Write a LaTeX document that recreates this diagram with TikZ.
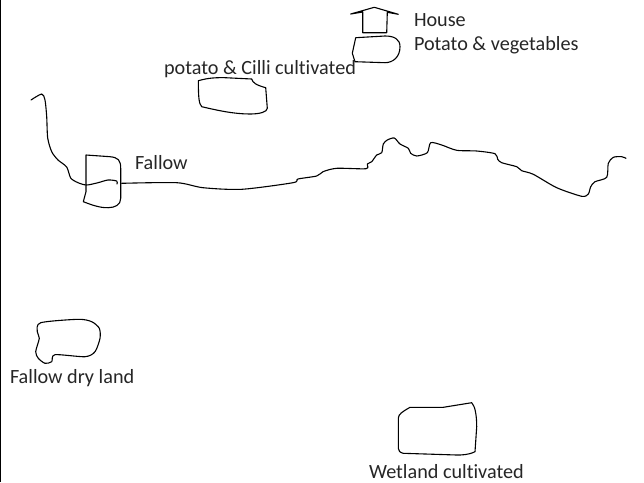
\documentclass[tikz,border=0pt]{standalone}
\usepackage{fontspec}
\setmainfont{Carlito}[Ligatures=CommonOff]
\tikzset{
  lab/.style={anchor=base west,inner sep=0pt,outer sep=0pt,text=black!85,font=\fontsize{20.2}{22}\selectfont},
  ink/.style={draw=black,line width=1.1pt,line join=round,line cap=round},
  sketch/.style={ink,smooth,tension=0.45},
  sketchc/.style={ink,smooth cycle,tension=0.45}
}
\begin{document}
\begin{tikzpicture}[x=1pt,y=-1pt]
\useasboundingbox (0,0) rectangle (644,482);
\fill[white] (0,0) rectangle (644,482);
\fill[black] (0,0) rectangle (1.3,482);
% river
\draw[sketch] plot coordinates {(31,100)(41.7,94)(45,100)(46.7,116.7)(47.7,138)(51.7,151.7)(58,160)(66.7,167)(70.7,178)(78,182.7)(86.7,185)(98,182.7)(108,180)(116.7,181)(117,184)};
\draw[sketch] plot coordinates {(121.7,183.3)(176.7,182.7)(203,187.7)(241.7,189.3)(293,182.7)(298,179)(316.7,176)(323,171.7)(336.7,168.3)(366,168.7)(367.3,164)(371.7,161.7)(376.7,155)(381.7,152.7)(383.3,144)(387.3,140)(394.3,138)(400,144)(408.3,148.3)(410.7,153.3)(416.7,156)(427.3,152.7)(430.7,142.7)(441.7,145)(456.7,150.3)(476.7,151)(495,153.7)(497.7,159.3)(501.7,162.7)(516.7,166.7)(521.7,170.7)(533.3,174.3)(556.7,187.7)(581.7,196.3)(588.3,194)(590.7,186.7)(595,181.7)(606.7,177.3)(608.3,163.3)(613.3,157.3)(621.7,156.7)(626,158.3)};
% fallow plot
\draw[ink] (86,155) -- (86,191.7) -- (83.3,201.7) .. controls (92,205) and (100,208) .. (108.3,207.7) .. controls (115,207.5) and (120.7,205) .. (120.7,198.3) -- (120.7,168.3) .. controls (120.7,160) and (118,157.5) .. (110,156.7) -- cycle;
% house
\draw[ink] (362.7,12) -- (350.7,14) -- (374.3,7.3) -- (398.3,14.3) -- (387.3,12.3) -- (386.7,32.7) -- (362.7,32.7) -- cycle;
% potato and vegetables plot
\draw[ink] (355.7,37.7) -- (385,36) .. controls (394,36) and (400,39) .. (400,46.7) .. controls (400,57) and (393,62.7) .. (385,62.7) -- (355,61.7) -- (352.3,53.3) -- cycle;
% potato and chilli plot
\draw[ink] (198.3,80.7) .. controls (208,78) and (215,77.5) .. (225,77.7) -- (251.7,79) .. controls (253,83) and (256,85) .. (265.7,87.7) -- (267.3,108.3) .. controls (267,112) and (260,114) .. (250,114) .. controls (235,114) and (220,111) .. (201.7,106.7) .. controls (199,103) and (198.5,100) .. cycle;
% fallow dry land plot
\draw[sketchc] plot coordinates {(40.7,322.7)(78.3,319.3)(91.7,321.7)(99.3,328.3)(100,338.3)(95,351.7)(85,356.7)(55,354.7)(51.7,361.7)(45,363.3)(38.3,358.3)(35.7,351.7)(39.3,338.3)(37.3,331.7)};
% wetland plot
\draw[ink] (410,407.3) -- (443.3,407.3) -- (471.7,402.7) .. controls (475,406) and (476.7,415) .. (476.7,426.7) -- (475,451.7) .. controls (468,455) and (462,455) .. (456.7,455) -- (403.3,453.3) .. controls (400,452.5) and (398.3,451) .. (398.3,448.3) -- (398.3,418.3) .. controls (398.5,414) and (402,412) .. cycle;
% labels
\node[lab] (house) at (414,26.5) {House};
\node[lab] (veg) at (414,50.5) {Potato \& vegetables};
\node[lab] (chilli) at (164,74.5) {potato \& Cilli cultivated};
\node[lab] (fallow) at (135,169) {Fallow};
\node[lab] (dry) at (10,383.5) {Fallow dry land};
\node[lab] (wet) at (369,478) {Wetland cultivated};
\end{tikzpicture}
\end{document}
